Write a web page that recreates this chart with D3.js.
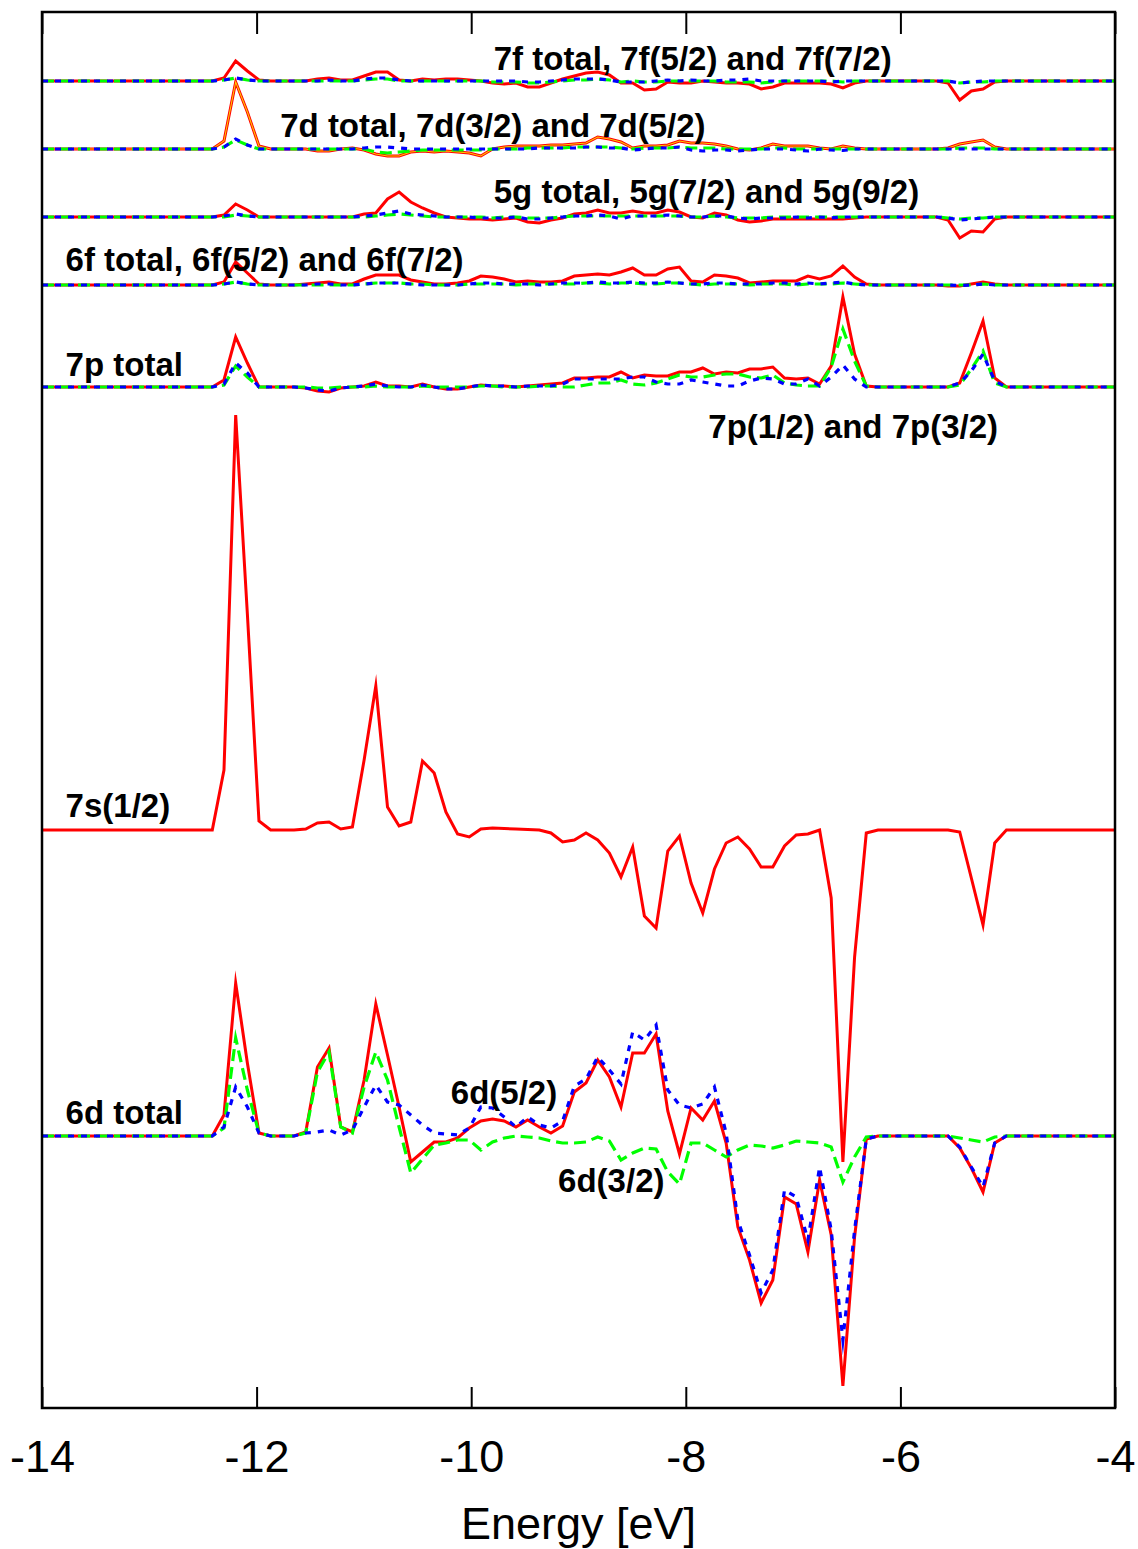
<!DOCTYPE html>
<html>
<head>
<meta charset="utf-8">
<script src="https://cdn.jsdelivr.net/npm/d3@7"></script>
<style>
  html, body { margin: 0; padding: 0; background: #fff; }
  svg { display: block; }
</style>
</head>
<body>
<svg id="chart" width="1138" height="1549"></svg>
<script>
// Energy grid (eV): step of 0.004 Ha, padded with the window edges.
const energy = [-14,
  -12.413, -12.304, -12.195, -12.086, -11.978, -11.869, -11.760, -11.651, -11.542, -11.433,
  -11.325, -11.216, -11.107, -10.998, -10.889, -10.780, -10.672, -10.563, -10.454, -10.345,
  -10.236, -10.127, -10.018, -9.910, -9.801, -9.692, -9.583, -9.474, -9.365, -9.257,
  -9.148, -9.039, -8.930, -8.821, -8.712, -8.604, -8.495, -8.386, -8.277, -8.168,
  -8.059, -7.951, -7.842, -7.733, -7.624, -7.515, -7.406, -7.298, -7.189, -7.080,
  -6.971, -6.862, -6.753, -6.645, -6.536, -6.427, -6.318, -6.209, -6.100, -5.992,
  -5.883, -5.774, -5.665, -5.556, -5.447, -5.339, -5.230, -5.121, -5.012,
  -4];

// 6d projected density
const d6Total = [0,
  0, 2.1, 15.3, 7.3, 0.3, 0, 0, 0, 0.4, 6.9,
  8.8, 0.9, 0.4, 5.6, 13.2, 8.1, 2.9, -2.6, -1.6, -0.6,
  -0.6, -0.2, 0.8, 1.5, 1.7, 1.5, 0.9, 1.6, 0.9, 0.3,
  1.0, 4.4, 5.3, 7.6, 5.9, 2.9, 8.3, 8.3, 10.2, 2.5,
  -1.8, 2.8, 1.6, 3.5, -0.7, -9.1, -12.4, -16.7, -14.4, -6.1,
  -6.8, -11.6, -4.4, -9.9, -25.0, -10.1, -0.3, 0, 0, 0,
  0, 0, 0, 0, -1.2, -3.2, -5.6, -0.7, 0,
  0];
const d6j32 = [0,
  0, 0.8, 9.8, 4.6, 0.3, 0, 0, 0, 0.3, 6.4,
  8.4, 0.9, 0.3, 4.9, 8.4, 5.6, 0.9, -3.7, -2.3, -0.9,
  -0.7, -0.4, -0.4, -1.4, -0.6, -0.2, 0, -0.1, -0.2, -0.5,
  -0.7, -0.7, -0.6, -0.1, -0.5, -2.4, -1.7, -1.2, -1.3, -3.6,
  -4.8, -0.7, -0.7, -1.4, -2.1, -1.4, -0.9, -1.0, -1.2, -0.9,
  -0.5, -0.6, -0.7, -1.1, -4.6, -2.1, -0.1, 0, 0, 0,
  0, 0, 0, 0, -0.2, -0.4, -0.6, -0.1, 0,
  0];
const d6j52 = [0,
  0, 0.9, 4.9, 2.9, 0.3, 0, 0, 0, 0.3, 0.4,
  0.6, 0.1, 0.6, 2.9, 5.1, 3.4, 3.1, 2.1, 1.1, 0.3,
  0.2, 0.1, 0.8, 2.9, 2.8, 1.9, 0.9, 1.9, 1.1, 0.8,
  1.5, 5.0, 5.7, 7.9, 6.6, 5.2, 10.4, 9.6, 11.1, 4.6,
  3.1, 2.8, 3.2, 4.9, 0.3, -8.4, -11.9, -15.7, -13.4, -5.4,
  -6.1, -10.4, -3.1, -9.4, -20.4, -9.4, -0.3, 0, 0, 0,
  0, 0, 0, 0, -1.1, -3.1, -5.1, -0.7, 0,
  0];

// 7s(1/2)
const s7Total = [0,
  0, 6.0, 41.5, 21.6, 0.9, 0, 0, 0, 0.1, 0.7,
  0.8, 0.1, 0.3, 7.0, 14.4, 2.3, 0.4, 0.8, 6.9, 5.7,
  1.8, -0.4, -0.7, 0.1, 0.2, 0.15, 0.1, 0.05, 0, -0.3,
  -1.2, -1.0, -0.3, -1.0, -2.3, -4.7, -1.7, -8.6, -9.8, -2.1,
  -0.6, -5.3, -8.3, -3.9, -1.3, -0.7, -1.9, -3.7, -3.7, -1.6,
  -0.5, -0.4, 0, -6.8, -33.2, -12.7, -0.3, 0, 0, 0,
  0, 0, 0, 0, -0.2, -4.8, -9.5, -1.3, 0,
  0];

// 7p projected density
const p7Total = [0,
  0, 0.7, 5.0, 2.4, 0, 0, 0, 0, -0.1, -0.4,
  -0.5, -0.1, 0, 0.1, 0.5, 0.1, 0.1, 0, 0.3, 0,
  -0.2, -0.2, 0, 0.2, 0.1, 0.1, 0, 0.1, 0.2, 0.3,
  0.4, 0.9, 0.9, 1.0, 1.0, 1.5, 0.9, 1.2, 1.1, 1.1,
  1.5, 1.5, 1.9, 1.3, 1.5, 1.4, 1.8, 1.8, 2.0, 0.9,
  0.8, 0.9, 0.3, 2.1, 9.0, 3.3, 0.1, 0, 0, 0,
  0, 0, 0, 0, 0.4, 3.4, 6.6, 0.9, 0,
  0];
const p7j12 = [0,
  0, 0.2, 2.1, 1.0, 0, 0, 0, 0, 0, -0.1,
  -0.1, 0, 0, 0, 0.1, 0, 0, 0, 0.1, 0,
  0, 0, 0, 0.1, 0.1, 0, 0, 0, 0.1, 0.1,
  0, 0, 0.2, 0.4, 0.4, 0.7, 0.3, 0.2, 0.4, 0.8,
  1.2, 1.0, 1.0, 1.2, 1.3, 1.3, 1.0, 0.9, 1.2, 0.4,
  0.2, 0.1, 0.1, 2.0, 5.8, 2.6, 0.1, 0, 0, 0,
  0, 0, 0, 0, 0.2, 1.8, 3.6, 0.4, 0,
  0];
const p7j32 = [0,
  0, 0.3, 2.4, 1.4, 0, 0, 0, 0, -0.1, -0.3,
  -0.4, -0.1, 0, 0.1, 0.3, 0.1, 0, 0, 0.2, 0,
  -0.2, -0.2, 0, 0.2, 0.1, 0.1, 0, 0.1, 0.1, 0.1,
  0.3, 0.8, 0.8, 0.8, 0.8, 0.8, 1.0, 1.0, 0.5, 0.3,
  0.3, 0.7, 0.5, 0.3, 0.1, 0.1, 0.6, 0.9, 0.8, 0.3,
  0.3, 0.8, 0.1, 1.0, 2.2, 0.8, 0, 0, 0, 0,
  0, 0, 0, 0, 0.4, 1.6, 3.3, 0.6, 0,
  0];

// 6f projected density
const f6Total = [0,
  0, 0.3, 2.3, 1.2, 0.1, 0, 0, 0, 0.1, 0.2,
  0.3, 0.1, 0.1, 0.6, 1.0, 1.0, 1.0, 0.5, 0.3, 0.1,
  0.1, 0.2, 0.4, 0.9, 0.8, 0.6, 0.3, 0.4, 0.3, 0.3,
  0.4, 0.9, 1.0, 1.1, 1.0, 1.3, 1.7, 1.0, 1.0, 1.6,
  1.8, 0.4, 0.3, 1.0, 0.9, 0.7, 0.2, 0.3, 0.4, 0.4,
  0.4, 0.9, 0.6, 0.9, 1.9, 0.8, 0.1, 0, 0, 0,
  0, 0, 0, -0.1, -0.1, 0.1, 0.3, 0.1, 0,
  0];
const f6j52 = [0,
  0, 0.1, 0.3, 0.1, 0, 0, 0, 0, 0, 0,
  0, 0, 0, 0.1, 0.2, 0.2, 0.2, 0.1, 0.1, 0,
  0, 0, 0.1, 0.1, 0.1, 0.1, 0, 0.1, 0.1, 0.1,
  0.1, 0.1, 0.2, 0.2, 0.1, 0.2, 0.2, 0.1, 0.1, 0.2,
  0.2, 0.1, 0, 0.1, 0.1, 0.1, 0, 0.1, 0.1, 0.1,
  0, 0.1, 0.1, 0.1, 0.2, 0.1, 0, 0, 0, 0,
  0, 0, 0, 0, 0, 0, 0.1, 0, 0,
  0];
const f6j72 = [0,
  0, 0.1, 0.3, 0.1, 0, 0, 0, 0, 0, 0.1,
  0.1, 0, 0, 0.1, 0.2, 0.2, 0.2, 0.1, 0, 0,
  0, 0, 0.1, 0.2, 0.2, 0.1, 0.1, 0.1, 0, 0.1,
  0.2, 0.2, 0.2, 0.3, 0.2, 0.2, 0.3, 0.2, 0.2, 0.3,
  0.2, 0.1, 0.1, 0.2, 0.2, 0.1, 0.1, 0.1, 0.2, 0.2,
  0.1, 0.2, 0.1, 0.2, 0.3, 0.1, 0, 0, 0, 0,
  0, 0, 0, 0, -0.05, 0, 0.1, 0, 0,
  0];

// 5g projected density
const g5Total = [0,
  0, 0.2, 1.3, 0.7, 0, 0, 0, 0, 0, 0,
  0, 0, 0, 0.3, 0.4, 1.8, 2.5, 1.5, 0.9, 0.4,
  0, -0.1, -0.2, -0.2, -0.3, -0.2, -0.1, -0.5, -0.6, -0.3,
  -0.1, 0.3, 0.4, 0.7, 0.4, 0.4, 0.6, 0.4, 0.4, 0.7,
  0.5, 0, -0.1, 0.4, 0.2, -0.3, -0.5, -0.4, -0.2, -0.2,
  -0.2, -0.2, -0.2, -0.2, -0.2, -0.1, 0, 0, 0, 0,
  0, 0, 0, -0.3, -2.1, -1.4, -1.5, -0.2, 0,
  0];
const g5j72 = [0,
  0, 0, 0.2, 0.1, 0, 0, 0, 0, 0, 0,
  0, 0, 0, 0, 0.1, 0.2, 0.3, 0.2, 0.1, 0,
  0, 0, 0, 0, -0.1, 0, 0, -0.1, -0.1, -0.1,
  0, 0.1, 0.1, 0.1, 0.1, 0.1, 0.1, 0.1, 0.1, 0.1,
  0.1, 0, 0, 0.1, 0, -0.1, -0.1, -0.1, 0, 0,
  0, 0, 0, 0, 0, 0, 0, 0, 0, 0,
  0, 0, 0, -0.1, -0.2, -0.1, -0.1, 0, 0,
  0];
const g5j92 = [0,
  0, 0.1, 0.3, 0.1, 0, 0, 0, 0, 0, 0,
  0, 0, 0, 0.1, 0.2, 0.4, 0.6, 0.3, 0.2, 0.1,
  0, 0, 0, -0.1, -0.1, -0.1, 0, -0.2, -0.2, -0.1,
  0, 0.1, 0.1, 0.2, 0.1, -0.2, 0.1, 0.1, 0.1, 0.2,
  0.1, 0, 0, 0.1, 0.1, -0.1, -0.2, -0.1, -0.1, -0.1,
  0, -0.1, 0, -0.1, 0, 0, 0, 0, 0, 0,
  0, 0, 0, -0.1, -0.3, -0.2, -0.1, 0, 0,
  0];

// 7d projected density
const d7Total = [0,
  0, 0.8, 6.7, 3.7, 0.3, 0, 0, 0, 0, -0.2,
  -0.2, 0, 0.1, -0.1, -0.5, -0.7, -0.7, -0.3, -0.2, -0.3,
  -0.2, -0.3, -0.4, -0.7, 0, 0.2, 0.3, 0.3, 0.3, 0.4,
  0.4, 0.5, 0.6, 1.2, 1.0, 0.7, 0.1, 0.3, 0.3, 0.4,
  0.8, 0.6, 0.6, 0.5, 0.3, 0, -0.1, 0.1, 0.5, 0.3,
  0.3, 0.3, 0.1, 0, 0.3, 0.1, 0, 0, 0, 0,
  0, 0, 0, 0.1, 0.5, 0.7, 0.9, 0.2, 0,
  0];
const d7j32 = [0,
  0, 0.2, 0.9, 0.4, 0, 0, 0, 0, 0, 0,
  0, 0, 0, 0, -0.3, -0.4, -0.3, -0.2, -0.1, -0.1,
  -0.1, -0.1, -0.1, -0.1, 0, 0, 0, 0.1, 0.1, 0.1,
  0.1, 0.2, 0.2, 0.2, 0.2, 0.1, 0, 0.1, 0.1, 0.1,
  0.2, 0.1, 0.1, 0.1, 0, 0, 0, 0, 0.1, 0.1,
  0, 0, 0, 0, 0, 0, 0, 0, 0, 0,
  0, 0, 0, 0, 0.1, 0.1, 0.1, 0, 0,
  0];
const d7j52 = [0,
  0, 0.2, 1.0, 0.4, 0, 0, 0, 0, 0, 0,
  0, 0, 0, 0.1, 0.2, 0.2, 0.1, 0, 0, 0,
  0, 0, 0, 0, 0, 0, 0, 0, 0.1, 0.1,
  0.1, 0.1, 0.2, 0.2, 0.1, 0.1, -0.1, 0, 0.1, 0.1,
  0.2, -0.1, -0.2, -0.1, -0.1, -0.2, -0.1, 0, 0, 0,
  -0.1, -0.2, 0, -0.1, -0.15, 0, 0, 0, 0, 0,
  0, 0, 0, 0, 0, 0, 0, 0, 0,
  0];

// 7f projected density
const f7Total = [0,
  0, 0.3, 2.0, 1.0, 0.1, 0, 0, 0, 0, 0.2,
  0.3, 0.1, 0.1, 0.5, 0.9, 0.9, 0.1, 0, 0.2, 0.1,
  0.2, 0.2, 0.1, 0, -0.2, -0.3, -0.2, -0.6, -0.6, -0.2,
  0.2, 0.5, 0.8, 0.9, 0.6, -0.2, -0.2, -0.9, -0.8, -0.1,
  -0.2, -0.2, 0, -0.1, -0.2, -0.2, -0.3, -0.8, -0.6, -0.2,
  -0.2, -0.2, -0.2, -0.3, -0.7, -0.2, 0, 0, 0, 0,
  0, 0, 0, -0.2, -1.9, -1.0, -0.8, -0.1, 0,
  0];
const f7j52 = [0,
  0, 0.1, 0.3, 0.1, 0, 0, 0, 0, 0, 0,
  0, 0, 0, 0.1, 0.2, 0.2, 0, 0, 0, 0,
  0, 0, 0, 0, -0.1, -0.1, -0.1, -0.2, -0.2, -0.1,
  0, 0.1, 0.1, 0.2, 0.1, -0.1, 0, -0.1, -0.1, 0,
  0, 0, 0, 0, -0.1, -0.1, -0.1, -0.2, -0.1, 0,
  0, 0, 0, 0, -0.1, 0, 0, 0, 0, 0,
  0, 0, 0, 0, -0.2, -0.1, -0.1, 0, 0,
  0];
const f7j72 = [0,
  0, 0.1, 0.3, 0.1, 0, 0, 0, 0, 0, 0,
  0.1, 0, 0, 0.2, 0.3, 0.3, 0.1, 0, 0, 0,
  0, 0, 0, 0, 0, 0, 0, -0.1, -0.1, 0,
  0.1, 0.2, 0.2, 0.2, 0.1, -0.1, -0.1, -0.1, 0, 0.1,
  0, 0.1, 0, 0, 0.1, 0.1, 0.2, 0, 0, 0,
  0, 0, 0, -0.1, 0, 0, 0, 0, 0, 0,
  0, 0, 0, 0, -0.2, -0.1, 0, 0, 0,
  0];

// Vertical shift of each stacked curve group (same units as the densities)
const offset6d = 0, offset7s = 30.6, offset7p = 74.9, offset6f = 85.1,
      offset5g = 91.9, offset7d = 98.7, offset7f = 105.5;

const xTicks = [-14, -12, -10, -8, -6, -4];

// Text annotations placed in data coordinates
const annotations = [
  { text: "7f total, 7f(5/2) and 7f(7/2)", e: -9.79,  v: 106.6 },
  { text: "7d total, 7d(3/2) and 7d(5/2)", e: -11.78, v: 99.9 },
  { text: "5g total, 5g(7/2) and 5g(9/2)", e: -9.79,  v: 93.3 },
  { text: "6f total, 6f(5/2) and 6f(7/2)", e: -13.78, v: 86.5 },
  { text: "7p total",                      e: -13.78, v: 76.0 },
  { text: "7p(1/2) and 7p(3/2)",           e: -7.79,  v: 69.8 },
  { text: "7s(1/2)",                       e: -13.78, v: 31.9 },
  { text: "6d total",                      e: -13.78, v: 1.2 },
  { text: "6d(5/2)",                       e: -10.19, v: 3.2 },
  { text: "6d(3/2)",                       e: -9.19,  v: -5.6 }
];

// ---- drawing ----
const RED = "#ff0000", GREEN = "#00ff00", BLUE = "#0000ff", YELLOW = "#ffc800";
const solid = { dash: null, width: 3 };
const dashed = { dash: "12,6", width: 3.2 };
const dotted = { dash: "6,7", width: 3.2 };

const plot = { left: 42, right: 1115, top: 12, bottom: 1408 };
const x = d3.scaleLinear().domain([-14, -4]).range([plot.left, plot.right]);
const y = d3.scaleLinear().domain([-27.2, 112.4]).range([plot.bottom, plot.top]);

const svg = d3.select("#chart");
const font = "'Liberation Sans', Arial, Helvetica, sans-serif";

const curves = [
  { vals: f7Total, off: offset7f, color: RED, style: solid },
  { vals: f7j52,   off: offset7f, color: GREEN, style: dashed },
  { vals: f7j72,   off: offset7f, color: BLUE, style: dotted },
  { vals: d7Total, off: offset7d, color: RED, style: solid },
  { vals: d7Total, off: offset7d, color: YELLOW, style: { dash: null, width: 1.1 } },
  { vals: d7j32,   off: offset7d, color: GREEN, style: dashed },
  { vals: d7j52,   off: offset7d, color: BLUE, style: dotted },
  { vals: g5Total, off: offset5g, color: RED, style: solid },
  { vals: g5j72,   off: offset5g, color: GREEN, style: dashed },
  { vals: g5j92,   off: offset5g, color: BLUE, style: dotted },
  { vals: f6Total, off: offset6f, color: RED, style: solid },
  { vals: f6j52,   off: offset6f, color: GREEN, style: dashed },
  { vals: f6j72,   off: offset6f, color: BLUE, style: dotted },
  { vals: p7Total, off: offset7p, color: RED, style: solid },
  { vals: p7j12,   off: offset7p, color: GREEN, style: dashed },
  { vals: p7j32,   off: offset7p, color: BLUE, style: dotted },
  { vals: s7Total, off: offset7s, color: RED, style: solid },
  { vals: d6Total, off: offset6d, color: RED, style: solid },
  { vals: d6j32,   off: offset6d, color: GREEN, style: dashed },
  { vals: d6j52,   off: offset6d, color: BLUE, style: dotted }
];

const gCurves = svg.append("g");
curves.forEach(c => {
  const line = d3.line()
    .x((d, i) => x(energy[i]))
    .y(d => y(d + c.off))
    .curve(d3.curveLinear);
  gCurves.append("path")
    .attr("d", line(c.vals))
    .attr("fill", "none")
    .attr("stroke", c.color)
    .attr("stroke-width", c.style.width)
    .attr("stroke-linejoin", "miter")
    .attr("stroke-miterlimit", 10)
    .attr("stroke-dasharray", c.style.dash);
});

// annotations
svg.append("g").selectAll("text")
  .data(annotations)
  .join("text")
  .attr("x", d => x(d.e))
  .attr("y", d => y(d.v))
  .attr("font-family", font)
  .attr("font-weight", "bold")
  .attr("font-size", 33)
  .attr("fill", "#000")
  .text(d => d.text);

// bottom axis: inward ticks, labels below
const axB = svg.append("g")
  .attr("transform", `translate(0,${plot.bottom})`)
  .call(d3.axisBottom(x).tickValues(xTicks).tickSize(-21).tickPadding(32).tickFormat(d3.format("d")));
axB.select(".domain").remove();
axB.selectAll(".tick line").attr("stroke", "#000").attr("stroke-width", 2);
axB.selectAll(".tick text")
  .attr("font-family", font)
  .attr("font-size", 45)
  .attr("fill", "#000")
  .text(d => d < 0 ? "-" + Math.abs(d) : d);

// top axis: inward ticks only
const axT = svg.append("g")
  .attr("transform", `translate(0,${plot.top})`)
  .call(d3.axisTop(x).tickValues(xTicks).tickSize(-22).tickFormat(""));
axT.select(".domain").remove();
axT.selectAll(".tick line").attr("stroke", "#000").attr("stroke-width", 2);

// frame
svg.append("rect")
  .attr("x", plot.left).attr("y", plot.top)
  .attr("width", plot.right - plot.left)
  .attr("height", plot.bottom - plot.top)
  .attr("fill", "none")
  .attr("stroke", "#000")
  .attr("stroke-width", 2.5);

// axis title
svg.append("text")
  .attr("x", (plot.left + plot.right) / 2)
  .attr("y", 1539)
  .attr("text-anchor", "middle")
  .attr("font-family", font)
  .attr("font-size", 45)
  .attr("fill", "#000")
  .text("Energy [eV]");
</script>
</body>
</html>
